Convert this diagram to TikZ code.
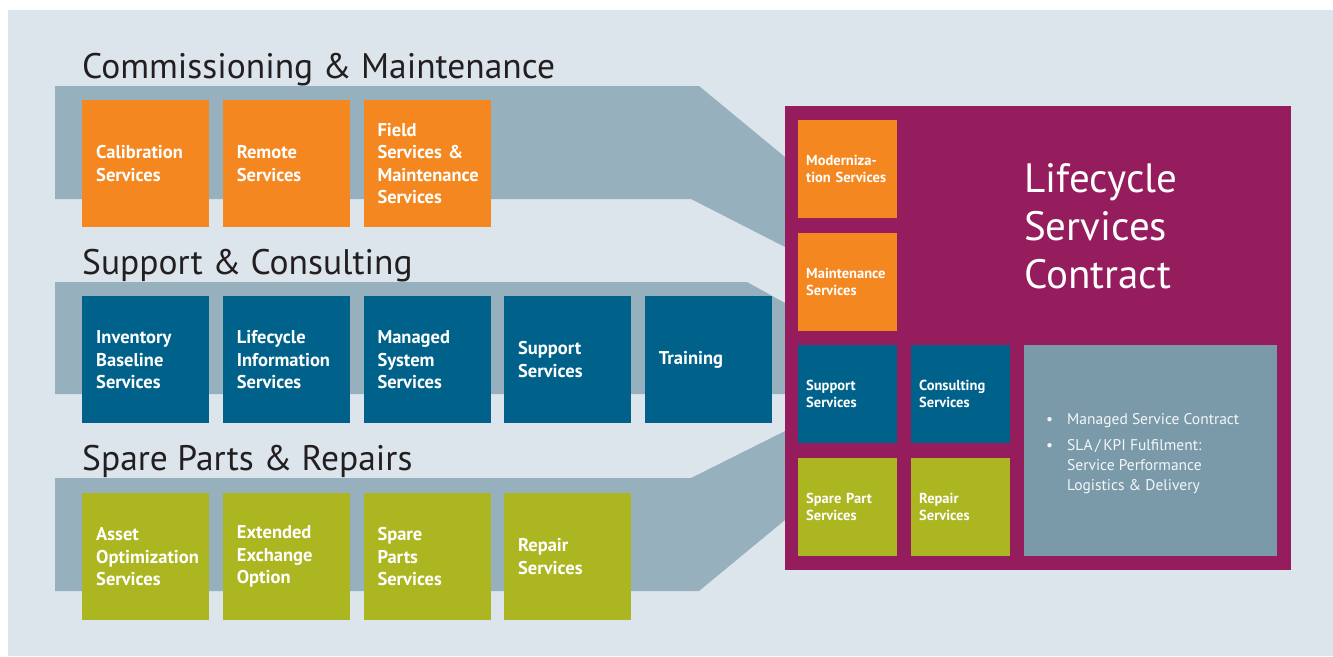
\documentclass[tikz,border=0pt]{standalone}
\usepackage{fontspec}
\setmainfont{PT Sans}
\usetikzlibrary{positioning}
\definecolor{bgblue}{HTML}{DDE5EC}
\definecolor{bandgrey}{HTML}{97B0BD}
\definecolor{svcorange}{HTML}{F48720}
\definecolor{svcblue}{HTML}{00628A}
\definecolor{svcgreen}{HTML}{ABB620}
\definecolor{lscpurple}{HTML}{951D5D}
\definecolor{infogrey}{HTML}{7A9AAA}
\definecolor{titlegrey}{HTML}{231F20}
\hyphenpenalty=10000
\tikzset{
  svc/.style={rectangle, anchor=north west, minimum width=127pt, minimum height=127pt,
    text width=99pt, inner xsep=14pt, inner ysep=0pt, align=left, text=white,
    font=\fontsize{18.5}{22.5}\selectfont\bfseries},
  minisvc/.style={rectangle, anchor=north west, minimum width=99pt, minimum height=98pt,
    text width=83pt, inner xsep=8pt, inner ysep=0pt, align=left, text=white,
    font=\fontsize{14.5}{17}\selectfont\bfseries},
  sectitle/.style={anchor=base west, inner sep=0pt, text=titlegrey,
    font=\fontsize{35.5}{40}\selectfont}
}

\begin{document}
\begin{tikzpicture}[x=1pt, y=-1pt, node distance=13.25pt]
  \useasboundingbox (0,0) rectangle (1333,656);
  \fill[bgblue] (8,10) rectangle (1333,656);

  % bands
  \fill[bandgrey] (55,86) -- (699,86) -- (785,157) -- (785,247) -- (691,199) -- (55,199) -- cycle;
  \fill[bandgrey] (55,282) -- (747,282) -- (785,303) -- (785,394) -- (55,394) -- cycle;
  \fill[bandgrey] (55,478) -- (691,478) -- (785,431) -- (785,520) -- (699,591) -- (55,591) -- cycle;

  % commissioning & maintenance
  \node[sectitle] (cmtitle) at (82,78) {Commissioning \& Maintenance};
  \node[svc, fill=svcorange] (calib) at (82,100) {Calibration\\Services};
  \node[svc, fill=svcorange, right=of calib] (remote) {Remote\\Services};
  \node[svc, fill=svcorange, right=of remote] (field) {Field\\Services \&\\Maintenance\\Services};

  % support & consulting
  \node[sectitle] (sctitle) at (82,274) {Support \& Consulting};
  \node[svc, fill=svcblue] (invent) at (82,296) {Inventory\\Baseline\\Services};
  \node[svc, fill=svcblue, right=of invent] (lcinfo) {Lifecycle\\Information\\Services};
  \node[svc, fill=svcblue, right=of lcinfo] (mansys) {Managed\\System\\Services};
  \node[svc, fill=svcblue, right=of mansys] (support) {Support\\Services};
  \node[svc, fill=svcblue, right=of support] (train) {Training};

  % spare parts & repairs
  \node[sectitle] (sptitle) at (82,470) {Spare Parts \& Repairs};
  \node[svc, fill=svcgreen] (asset) at (82,493) {Asset\\Optimization\\Services};
  \node[svc, fill=svcgreen, right=of asset] (exchange) {Extended\\Exchange\\Option};
  \node[svc, fill=svcgreen, right=of exchange] (spare) {Spare\\Parts\\Services};
  \node[svc, fill=svcgreen, right=of spare] (repair) {Repair\\Services};

  % lifecycle services contract
  \node[rectangle, anchor=north west, fill=lscpurple, minimum width=506pt, minimum height=464pt, inner sep=0pt] (lsc) at (785,106) {};
  \node[anchor=base west, inner sep=0pt, align=left, text=white, font=\fontsize{41}{48}\selectfont] (lsctitle) at (1024,288) {Lifecycle\\Services\\Contract};
  \node[minisvc, fill=svcorange] (modern) at (798,120) {Moderniza-\\tion Services};
  \node[minisvc, fill=svcorange] (maint) at (798,233) {Maintenance\\Services};
  \node[minisvc, fill=svcblue] (lscsupport) at (798,345) {Support\\Services};
  \node[minisvc, fill=svcblue] (consult) at (911,345) {Consulting\\Services};
  \node[minisvc, fill=svcgreen] (lscspare) at (798,458) {Spare Part\\Services};
  \node[minisvc, fill=svcgreen] (lscrepair) at (911,458) {Repair\\Services};
  \node[rectangle, anchor=north west, fill=infogrey, minimum width=253pt, minimum height=211pt, inner sep=0pt] (info) at (1024,345) {};
  \node[anchor=north west, inner sep=0pt, text=white!92!infogrey, font=\fontsize{15.5}{20}\selectfont] (infotext) at (1046,410) {%
    \begin{tabular}{@{}l@{\hspace{14pt}}l@{}}
      \textbullet & Managed Service Contract\\[6pt]
      \textbullet & SLA\,/\,KPI Fulfilment:\\
      & Service Performance\\
      & Logistics \& Delivery
    \end{tabular}};
\end{tikzpicture}
\end{document}
